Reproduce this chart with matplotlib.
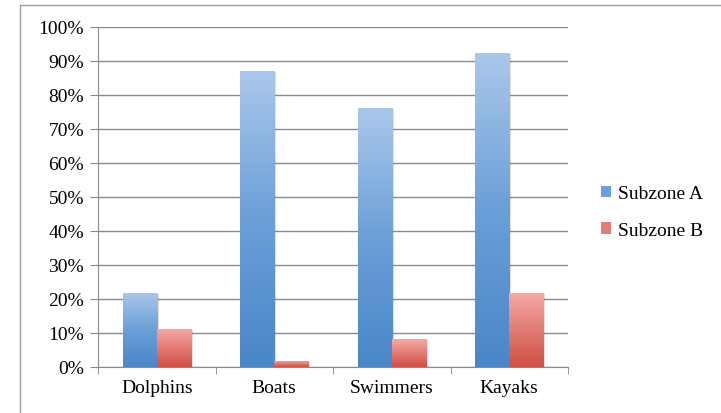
import matplotlib
matplotlib.use("Agg")
import matplotlib.pyplot as plt
import numpy as np
from matplotlib.patches import Rectangle, Patch
from matplotlib.lines import Line2D
from matplotlib.colors import LinearSegmentedColormap

categories = ["Dolphins", "Boats", "Swimmers", "Kayaks"]
subzone_a = [21.8, 87.1, 76.2, 92.4]
subzone_b = [11.2, 1.9, 8.2, 21.8]
series_names = ["Subzone A", "Subzone B"]
yticks = list(range(0, 101, 10))
ytick_labels = [f"{v}%" for v in yticks]

plt.rcParams['font.family'] = ['Liberation Serif', 'DejaVu Serif']
FS = 14

fig = plt.figure(figsize=(7.21, 4.14), dpi=100)
# outer border (only left and top visible in the reference)
fig.add_artist(Line2D([19.5/721, 19.5/721], [0, 1 - 6/414], transform=fig.transFigure,
                      color="#a0a0a0", linewidth=1.0))
fig.add_artist(Line2D([19.5/721, 1], [1 - 6/414, 1 - 6/414], transform=fig.transFigure,
                      color="#a0a0a0", linewidth=1.0))
ax = fig.add_axes([98/721, 1 - 368/414, (568-98)/721, (368-28)/414])

blue_cmap = LinearSegmentedColormap.from_list("b", ["#4a86c8", "#6b9fd8", "#abc8ea"])
red_cmap = LinearSegmentedColormap.from_list("r", ["#d04f45", "#e27c75", "#f6aaa7"])

x = np.arange(len(categories))
w = 0.29
grad = np.linspace(0, 1, 256).reshape(-1, 1)

def gbar(xc, h, cmap):
    sh = Rectangle((xc - w/2 + 0.015, 0), w, max(h - 0.3, 0), facecolor="#000000", alpha=0.12,
                   edgecolor="none", zorder=2)
    ax.add_patch(sh)
    r = Rectangle((xc - w/2, 0), w, h, facecolor="none", edgecolor="none", zorder=3)
    ax.add_patch(r)
    im = ax.imshow(grad, cmap=cmap, origin="lower", aspect="auto",
                   extent=[xc - w/2, xc + w/2, 0, h], zorder=3)
    im.set_clip_path(r)

for i in range(len(categories)):
    gbar(x[i] - w/2, subzone_a[i], blue_cmap)
    gbar(x[i] + w/2, subzone_b[i], red_cmap)

ax.set_xlim(-0.5, len(categories) - 0.5)
ax.set_ylim(0, 100)
ax.set_yticks(yticks)
ax.set_yticklabels(ytick_labels, fontsize=FS)
ax.set_xticks(x)
ax.set_xticklabels(categories, fontsize=FS)
ax.set_xticks(np.arange(-0.5, len(categories), 1), minor=True)
ax.tick_params(axis="x", which="major", length=0, pad=9)
ax.tick_params(axis="x", which="minor", length=5, color="#888888", direction="out")
ax.tick_params(axis="y", length=6, color="#888888", direction="out", pad=4)
for yv in yticks:
    ax.axhline(yv, color="#8c8c8c", linewidth=1.0, zorder=1)
for s in ["top", "right"]:
    ax.spines[s].set_visible(False)
ax.spines["left"].set_color("#8c8c8c")
ax.spines["bottom"].set_color("#8c8c8c")

handles = [Patch(facecolor="#6b9fd8", edgecolor="none"), Patch(facecolor="#e27c75", edgecolor="none")]
fig.legend(handles, series_names, loc="center left", bbox_to_anchor=(583/721, 1 - 213/414),
           frameon=False, fontsize=FS, handlelength=0.55, handleheight=0.55, handletextpad=0.35,
           labelspacing=1.0)

fig.savefig("out.png", dpi=100)
